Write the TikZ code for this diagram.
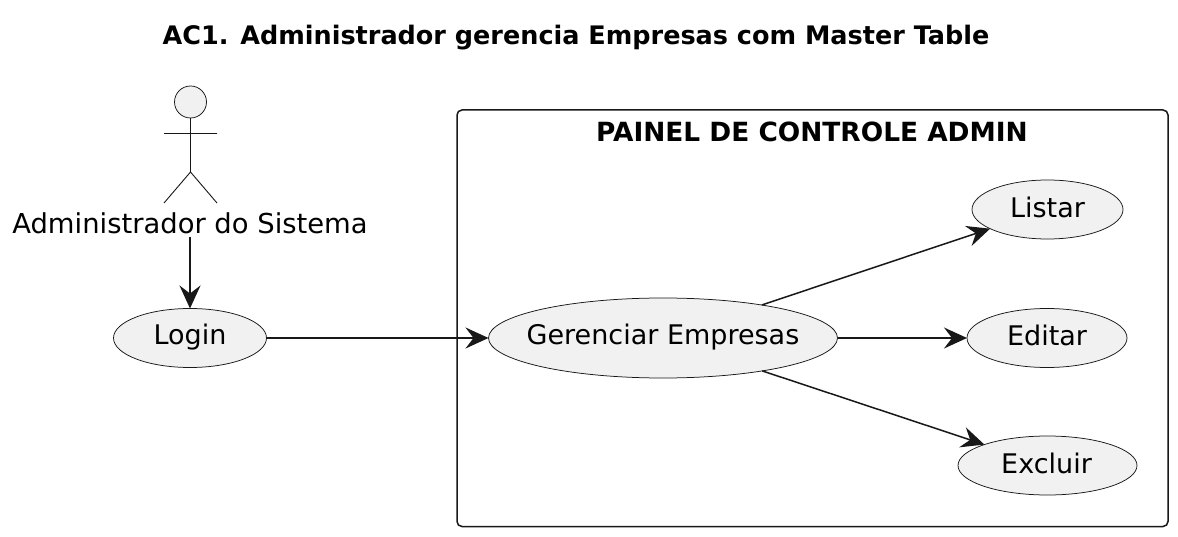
\documentclass[tikz,border=0pt]{standalone}
\usepackage{fontspec}
\setmainfont{DejaVu Sans}
\usetikzlibrary{arrows.meta,shapes.geometric}
\definecolor{ucfill}{HTML}{F1F1F1}
\definecolor{ink}{HTML}{181818}
\tikzset{x=1pt,y=-1pt,
 usecase/.style={draw=ink,fill=ucfill,line width=0.75pt,ellipse,inner sep=0pt,outer sep=0pt},
 lbl/.style={font=\fontsize{27}{32}\selectfont,text=black,inner sep=0pt},
 link/.style={draw=ink,line width=1.5pt,-{Stealth[length=23pt,width=21pt,inset=8pt]}},
 actorline/.style={draw=ink,line width=0.9pt}}
\begin{document}
\begin{tikzpicture}
\useasboundingbox (0,0) rectangle (1178,537);
\fill[white] (0,0) rectangle (1178,537);
\node[lbl,font=\bfseries\fontsize{25.5}{30}\selectfont] (title) at (576,38) {AC1. Administrador gerencia Empresas com Master Table};
\draw[draw=ink,line width=1.5pt,rounded corners=5pt] (457,110) rectangle (1168,526.5);
\node[lbl,font=\bfseries\fontsize{26.4}{31}\selectfont] (sys) at (812,131.5) {PAINEL DE CONTROLE ADMIN};
\node[usecase,circle,minimum size=32pt] (head) at (190.5,102) {};
\coordinate (neck) at (190.5,118);
\coordinate (hip) at (190.5,172);
\coordinate (armL) at (164,133.5);
\coordinate (armR) at (217,133.5);
\coordinate (legL) at (164,203);
\coordinate (legR) at (217,203);
\draw[actorline] (neck) -- (hip) (armL) -- (armR) (legL) -- (hip) -- (legR);
\node[lbl,font=\fontsize{27.4}{32}\selectfont,outer sep=2.5pt] (actor) at (190,223.5) {Administrador do Sistema};
\node[usecase,minimum width=153pt,minimum height=59pt] (login) at (190,338) {};
\node[lbl] at (190,337) {Login};
\node[usecase,minimum width=349pt,minimum height=80pt] (ger) at (663,338) {};
\node[lbl] at (663,337) {Gerenciar Empresas};
\node[usecase,minimum width=151pt,minimum height=59pt] (listar) at (1047.5,209.5) {};
\node[lbl] at (1047.5,207) {Listar};
\node[usecase,minimum width=160pt,minimum height=59pt] (editar) at (1047,338) {};
\node[lbl] at (1047,335) {Editar};
\node[usecase,minimum width=179pt,minimum height=59pt] (excluir) at (1047.5,465.5) {};
\node[lbl] at (1046.5,463) {Excluir};
\draw[link] (actor) -- (login);
\draw[link] (login) -- (ger);
\draw[link] (ger) -- (listar);
\draw[link] (ger) -- (editar);
\draw[link] (ger) -- (excluir);
\end{tikzpicture}
\end{document}
